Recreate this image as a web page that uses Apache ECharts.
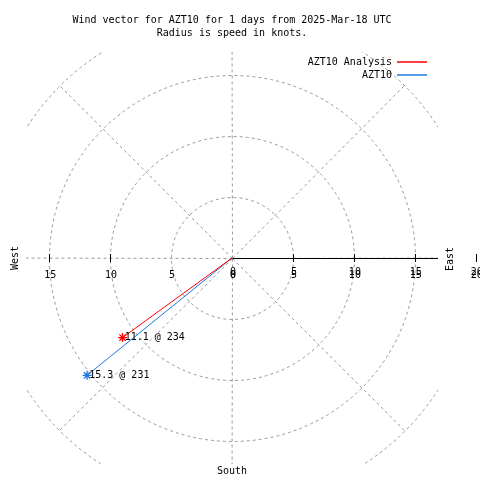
<!DOCTYPE html>
<html><head><meta charset="utf-8">
<script src="https://cdn.jsdelivr.net/npm/echarts@6/dist/echarts.min.js"></script>
<style>html,body{margin:0;padding:0;background:#fff}#c{width:480px;height:480px}</style>
</head><body><div id="c"></div>
<script>
const titleLines = ['Wind vector for AZT10 for 1 days from 2025-Mar-18 UTC', 'Radius is speed in knots.'];
const seriesNames = ['AZT10 Analysis', 'AZT10'];
const seriesColors = ['#ff0000', '#1c78dc'];
const analysisSpeed = [11.1];
const analysisDir = [234];
const obsSpeed = [15.3];
const obsDir = [231];
const ringRadii = [5, 10, 15, 20];
const spokeAngles = [0, 45, 90, 135, 180, 225, 270, 315];
const leftTicks = [15, 10, 5, 0];
const leftTickMarks = [15, 10];
const rightTicks = [0, 5, 10, 15, 20];
const westLabel = 'West', eastLabel = 'East', southLabel = 'South';

const FAMILY = 'DejaVu Sans Mono';
const FONT = '10px "DejaVu Sans Mono"';
const GRAY = '#9a9a9a';
const DASH = [3, 3];

function tip(s, d) { const r = d * Math.PI / 180; return [s * Math.sin(r), s * Math.cos(r)]; }
function px(v) { return Math.round(v) + 0.5; }

const star = 'path://M0,5L10,5M5,0L5,10M1.5,1.5L8.5,8.5M8.5,1.5L1.5,8.5';

function vectorSeries(name, color, speeds, dirs) {
  const data = [{ value: [0, 0], symbol: 'none' }];
  speeds.forEach((s, i) => {
    data.push({
      value: tip(s, dirs[i]),
      symbol: star,
      symbolSize: 9,
      label: {
        show: true, position: 'right', distance: -3,
        formatter: s.toFixed(1) + ' @ ' + dirs[i],
        color: '#000', fontFamily: FAMILY, fontSize: 10
      }
    });
  });
  return {
    type: 'line', name, data, color,
    lineStyle: { color, width: 1 },
    itemStyle: { color, borderColor: color, borderWidth: 1.3 },
    animation: false, z: 5
  };
}

const legendBase = { right: 53, padding: 0, align: 'right', icon: 'rect', itemWidth: 30, itemHeight: 1.5, selectedMode: false, itemStyle: { borderWidth: 0 }, textStyle: { fontFamily: FAMILY, fontSize: 10, color: '#000' } };

const chart = echarts.init(document.getElementById('c'));
chart.setOption({
  animation: false,
  backgroundColor: '#fff',
  grid: { left: 26, right: 42, top: 52, bottom: 16 },
  xAxis: { type: 'value', min: -16.9, max: 16.9, show: false },
  yAxis: { type: 'value', min: -16.9, max: 16.9, show: false },
  legend: [
    Object.assign({ data: [seriesNames[0]], top: 57 }, legendBase),
    Object.assign({ data: [seriesNames[1]], top: 70 }, legendBase)
  ],
  graphic: [
    { type: 'text', x: 232, y: 20, style: { text: titleLines[0], font: FONT, fill: '#000', align: 'center', verticalAlign: 'middle' } },
    { type: 'text', x: 232, y: 33, style: { text: titleLines[1], font: FONT, fill: '#000', align: 'center', verticalAlign: 'middle' } },
    { type: 'text', x: 15, y: 258, rotation: Math.PI / 2, style: { text: westLabel, font: FONT, fill: '#000', align: 'center', verticalAlign: 'middle' } },
    { type: 'text', x: 450, y: 259, rotation: Math.PI / 2, style: { text: eastLabel, font: FONT, fill: '#000', align: 'center', verticalAlign: 'middle' } },
    { type: 'text', x: 232, y: 471, style: { text: southLabel, font: FONT, fill: '#000', align: 'center', verticalAlign: 'middle' } }
  ],
  series: [
    {
      type: 'custom', name: 'rings', silent: true, clip: true, z: 1,
      data: ringRadii.map(r => [r, 0]),
      renderItem(params, api) {
        const c = api.coord([0, 0]);
        const r = api.size([api.value(0), 0])[0];
        return { type: 'circle', shape: { cx: px(c[0]), cy: px(c[1]), r: Math.round(r) }, style: { fill: null, stroke: GRAY, lineWidth: 1, lineDash: DASH } };
      }
    },
    {
      type: 'custom', name: 'spokes', silent: true, clip: true, z: 1,
      data: spokeAngles.map(a => [a, 0]),
      renderItem(params, api) {
        const c = api.coord([0, 0]);
        const e = api.coord(tip(ringRadii[ringRadii.length - 1], api.value(0)));
        return { type: 'line', shape: { x1: px(c[0]), y1: px(c[1]), x2: e[0], y2: e[1] }, style: { stroke: GRAY, lineWidth: 1, lineDash: DASH } };
      }
    },
    {
      type: 'custom', name: 'axisline', silent: true, clip: true, z: 2,
      data: [[0, 0]],
      renderItem(params, api) {
        const c = api.coord([0, 0]);
        const e = api.coord([ringRadii[ringRadii.length - 1], 0]);
        return { type: 'line', shape: { x1: px(c[0]), y1: px(c[1]), x2: e[0], y2: px(e[1]) }, style: { stroke: '#000', lineWidth: 1 } };
      }
    },
    {
      type: 'custom', name: 'rightTicks', silent: true, clip: false, z: 3,
      data: rightTicks.map(v => [v, 0]),
      renderItem(params, api) {
        const v = api.value(0);
        const p = api.coord([v, 0]);
        const children = [
          { type: 'text', style: { x: p[0] + 1, y: p[1] + 14, text: String(v), font: FONT, fill: '#000', align: 'center', verticalAlign: 'middle' } },
          { type: 'text', style: { x: p[0] + 1, y: p[1] + 17, text: String(v), font: FONT, fill: '#000', align: 'center', verticalAlign: 'middle' } }
        ];
        if (v !== 0) children.push({ type: 'line', shape: { x1: px(p[0]), y1: p[1] - 4, x2: px(p[0]), y2: p[1] + 4 }, style: { stroke: '#000', lineWidth: 1 } });
        return { type: 'group', children };
      }
    },
    {
      type: 'custom', name: 'leftTicks', silent: true, clip: false, z: 3,
      data: leftTicks.map(v => [-v, 0]),
      renderItem(params, api) {
        const v = api.value(0);
        const p = api.coord([v, 0]);
        const children = [
          { type: 'text', style: { x: p[0] + 1, y: p[1] + 17, text: String(-v), font: FONT, fill: '#000', align: 'center', verticalAlign: 'middle' } }
        ];
        if (leftTickMarks.indexOf(-v) >= 0) children.push({ type: 'line', shape: { x1: px(p[0]), y1: p[1] - 4, x2: px(p[0]), y2: p[1] + 4 }, style: { stroke: '#000', lineWidth: 1 } });
        return { type: 'group', children };
      }
    },
    vectorSeries(seriesNames[1], seriesColors[1], obsSpeed, obsDir),
    vectorSeries(seriesNames[0], seriesColors[0], analysisSpeed, analysisDir)
  ]
});
</script>
</body></html>
